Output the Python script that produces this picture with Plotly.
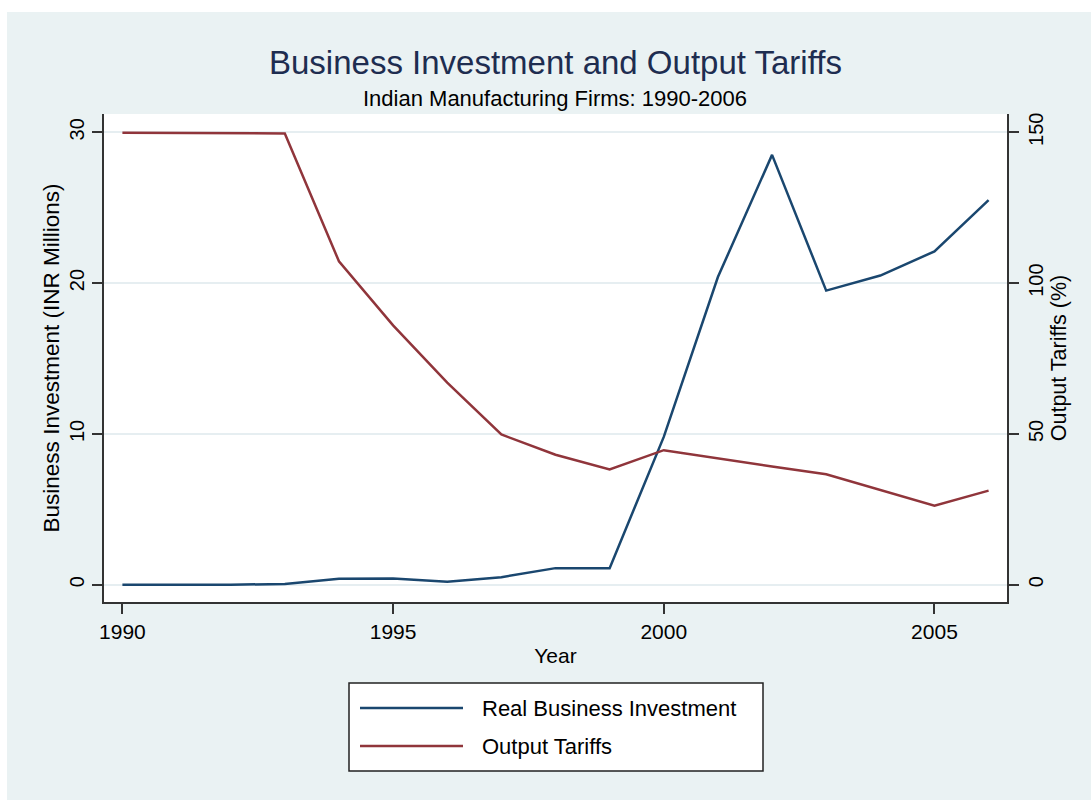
import plotly.graph_objects as go

# Annual series, 1990-2006
years = list(range(1990, 2007))
investment = [0.0, 0.0, 0.0, 0.05, 0.4, 0.42, 0.2, 0.5, 1.1, 1.1,
              9.8, 20.4, 28.5, 19.5, 20.5, 22.1, 25.5]
tariffs = [149.8, 149.8, 149.7, 149.6, 107.2, 86.0, 67.0, 49.8, 43.1, 38.2,
           44.6, 41.8, 39.2, 36.6, 31.5, 26.2, 31.2]

series_names = ["Real Business Investment", "Output Tariffs"]
x_ticks = [1990, 1995, 2000, 2005]
left_ticks = [0, 10, 20, 30]
right_ticks = [0, 50, 100, 150]

NAVY = "#1a476f"
MAROON = "#90353b"
BG = "#eaf2f3"
GRID = "#e6eef1"
AXIS = "#333333"
FONT = "Liberation Sans, Arial, sans-serif"
COLORS = [NAVY, MAROON]

fig = go.Figure()
fig.add_trace(go.Scatter(x=years, y=investment, mode="lines",
                         name=series_names[0], showlegend=False,
                         line=dict(color=NAVY, width=2.5), yaxis="y"))
fig.add_trace(go.Scatter(x=years, y=tariffs, mode="lines",
                         name=series_names[1], showlegend=False,
                         line=dict(color=MAROON, width=2.5), yaxis="y2"))

W, H = 1091, 800
L, R, T, B = 104, 84, 114, 198
ph = H - T - B


def py(p):
    return (H - B - p) / ph


def px(p):
    return (p - L) / (W - L - R)


shapes = [
    # white frame strips at the top and left edge of the page
    dict(type="rect", xref="paper", yref="paper",
         x0=px(0), x1=px(W), y0=py(12), y1=py(0),
         fillcolor="white", line=dict(width=0), layer="above"),
    dict(type="rect", xref="paper", yref="paper",
         x0=px(0), x1=px(7), y0=py(H), y1=py(0),
         fillcolor="white", line=dict(width=0), layer="above"),
    # legend box
    dict(type="rect", xref="paper", yref="paper",
         x0=px(349), x1=px(763), y0=py(771), y1=py(683),
         fillcolor="white", line=dict(color="#222222", width=1.5),
         layer="above"),
]
annotations = [
    dict(text="Business Investment and Output Tariffs",
         xref="paper", yref="paper", x=px(555), y=py(62),
         xanchor="center", yanchor="middle", showarrow=False,
         font=dict(size=33, color="#1e2d50")),
    dict(text="Indian Manufacturing Firms: 1990-2006",
         xref="paper", yref="paper", x=px(555), y=py(99),
         xanchor="center", yanchor="middle", showarrow=False,
         font=dict(size=22, color="black")),
]
# legend keys and labels
for i, (name, col) in enumerate(zip(series_names, COLORS)):
    yk = 708 + 38 * i
    shapes.append(dict(type="line", xref="paper", yref="paper",
                       x0=px(360), x1=px(463), y0=py(yk), y1=py(yk),
                       line=dict(color=col, width=2.5), layer="above"))
    annotations.append(dict(text=name, xref="paper", yref="paper",
                            x=px(480), y=py(yk), xanchor="left",
                            yanchor="middle", showarrow=False,
                            font=dict(size=22, color="black")))

fig.update_layout(
    width=W, height=H,
    margin=dict(l=L, r=R, t=T, b=B, autoexpand=False),
    paper_bgcolor=BG, plot_bgcolor="white",
    font=dict(family=FONT, color="black", size=21),
    xaxis=dict(range=[1989.66, 2006.34], tickvals=x_ticks,
               showline=True, linecolor=AXIS, linewidth=1.5,
               ticks="outside", ticklen=10, tickwidth=1.5, tickcolor=AXIS,
               showgrid=False, zeroline=False,
               tickfont=dict(size=21),
               title=dict(text="Year", font=dict(size=21), standoff=6)),
    yaxis=dict(range=[-1.146, 31.21], tickvals=left_ticks, tickangle=-90,
               showline=True, linecolor=AXIS, linewidth=1.5,
               ticks="outside", ticklen=10, tickwidth=1.5, tickcolor=AXIS,
               showgrid=True, gridcolor=GRID, gridwidth=2, zeroline=False,
               tickfont=dict(size=20),
               title=dict(text="Business Investment (INR Millions)",
                          font=dict(size=22.5), standoff=0)),
    yaxis2=dict(range=[-5.73, 156.05], tickvals=right_ticks, tickangle=-90,
                overlaying="y", side="right",
                showline=True, linecolor=AXIS, linewidth=1.5,
                ticks="outside", ticklen=10, tickwidth=1.5, tickcolor=AXIS,
                showgrid=False, zeroline=False,
                tickfont=dict(size=20),
                title=dict(text="Output Tariffs (%)",
                           font=dict(size=21.5), standoff=2)),
    showlegend=False,
    annotations=annotations,
    shapes=shapes,
)

fig.write_html("out.html")
